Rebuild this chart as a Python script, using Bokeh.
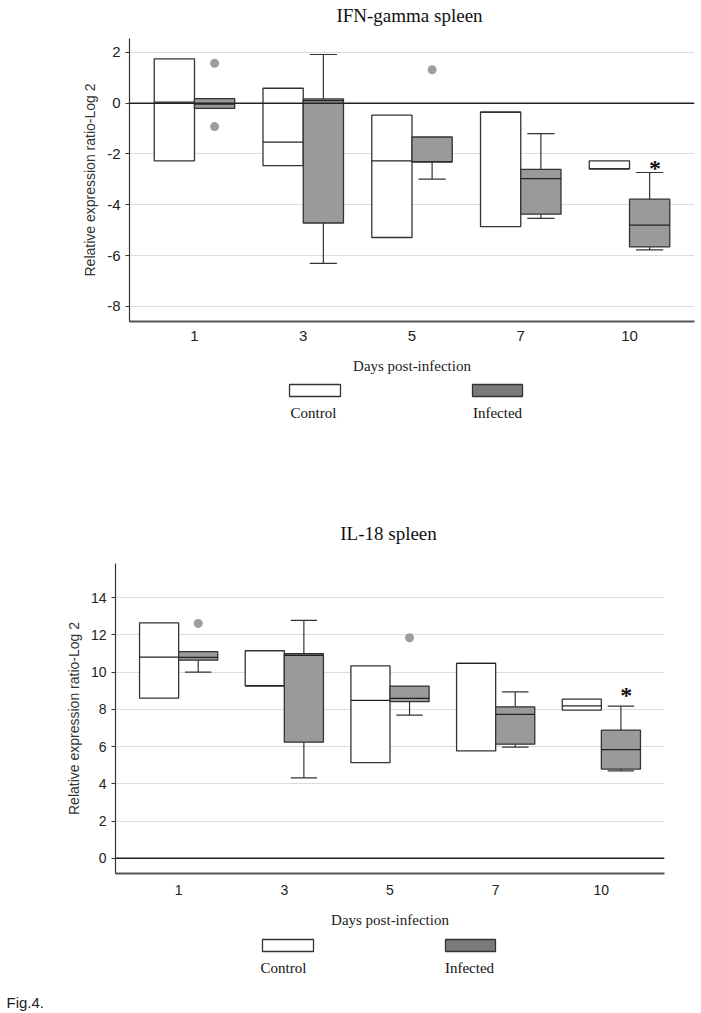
from bokeh.plotting import figure
from bokeh.models import (FactorRange, Range1d, FixedTicker, Span, ColumnDataSource,
                          PrintfTickFormatter)
from bokeh.transform import dodge
from bokeh.embed import file_html
from bokeh.resources import INLINE
from bokeh.core.properties import value

days = ["1", "3", "5", "7", "10"]

# ---- IFN-gamma spleen (Relative expression ratio, Log 2) ----
ifn_ctrl_q1 = [-2.27, -2.46, -5.29, -4.86, -2.59]
ifn_ctrl_med = [0.04, -1.53, -2.27, -0.35, -2.59]
ifn_ctrl_q3 = [1.75, 0.59, -0.47, -0.35, -2.27]
ifn_inf_q1 = [-0.20, -4.72, -2.31, -4.37, -5.66]
ifn_inf_med = [-0.03, 0.10, -2.31, -2.97, -4.80]
ifn_inf_q3 = [0.18, 0.17, -1.33, -2.61, -3.78]
ifn_inf_lo = [None, -6.31, -2.99, -4.54, -5.78]
ifn_inf_hi = [None, 1.92, None, -1.20, -2.73]
ifn_out_day = ["1", "1", "5"]
ifn_out_val = [1.57, -0.92, 1.32]
ifn_sig_day = ["10"]
ifn_sig_val = [-2.37]
ifn_yticks = [-8, -6, -4, -2, 0, 2]

# ---- IL-18 spleen ----
il_ctrl_q1 = [8.60, 9.27, 5.14, 5.77, 7.96]
il_ctrl_med = [10.81, 9.27, 8.48, 10.47, 8.19]
il_ctrl_q3 = [12.65, 11.15, 10.34, 10.47, 8.55]
il_inf_q1 = [10.65, 6.24, 8.42, 6.13, 4.79]
il_inf_med = [10.79, 10.90, 8.59, 7.73, 5.84]
il_inf_q3 = [11.10, 10.99, 9.25, 8.14, 6.88]
il_inf_lo = [10.00, 4.32, 7.69, 5.97, 4.70]
il_inf_hi = [None, 12.78, None, 8.94, 8.17]
il_out_day = ["1", "5"]
il_out_val = [12.62, 11.85]
il_sig_day = ["10"]
il_sig_val = [9.03]
il_yticks = [0, 2, 4, 6, 8, 10, 12, 14]

titles = ["IFN-gamma spleen", "IL-18 spleen"]
series_names = ["Control", "Infected"]
CTRL_FILL = "white"
INF_FILL = "#9a9a9a"
EDGE = "#333333"
BOXW = 0.37
OFF = 0.185
CAP = 0.125

SANS = "Liberation Sans"
SERIF = "Liberation Serif"
PAGE_W = 701


def chart(c_q1, c_med, c_q3, i_q1, i_med, i_q3, i_lo, i_hi, o_day, o_val,
          s_day, s_val, yr, yticks, height, bl, br, bt, bb, tick_size,
          tick_standoff, label_standoff):
    p = figure(width=PAGE_W, height=height, x_range=FactorRange(*days),
               y_range=Range1d(*yr), output_backend="svg", toolbar_location=None,
               min_border_left=bl, min_border_right=br, min_border_top=bt,
               min_border_bottom=bb)
    p.x_range.range_padding = 0.0975
    p.x_range.range_padding_units = "absolute"
    p.outline_line_color = None

    p.xgrid.visible = False
    p.ygrid.ticker = FixedTicker(ticks=yticks)
    p.ygrid.grid_line_color = "#dcdcdc"
    p.ygrid.grid_line_width = 1

    p.yaxis.ticker = FixedTicker(ticks=yticks)
    p.yaxis.formatter = PrintfTickFormatter(format="%d")
    p.yaxis.axis_line_color = "#333333"
    p.yaxis.axis_line_width = 1.2
    p.yaxis.major_tick_line_color = "#333333"
    p.yaxis.major_tick_out = 4
    p.yaxis.major_tick_in = 0
    p.yaxis.minor_tick_line_color = None
    p.yaxis.major_label_text_font = SANS
    p.yaxis.major_label_text_font_size = tick_size
    p.yaxis.major_label_text_color = "#222222"
    p.yaxis.major_label_standoff = 5
    p.yaxis.axis_label = "Relative expression ratio-Log 2"
    p.yaxis.axis_label_text_font = SANS
    p.yaxis.axis_label_text_font_size = "14px"
    p.yaxis.axis_label_text_font_style = "normal"
    p.yaxis.axis_label_text_color = "#333333"
    p.yaxis.axis_label_standoff = 6

    p.xaxis.axis_line_color = "#555555"
    p.xaxis.axis_line_width = 2
    p.xaxis.major_tick_line_color = None
    p.xaxis.major_tick_out = 0
    p.xaxis.minor_tick_line_color = None
    p.xaxis.major_label_text_font = SANS
    p.xaxis.major_label_text_font_size = tick_size
    p.xaxis.major_label_text_color = "#222222"
    p.xaxis.major_label_standoff = tick_standoff
    p.xaxis.axis_label = "Days post-infection"
    p.xaxis.axis_label_text_font = SERIF
    p.xaxis.axis_label_text_font_size = "15px"
    p.xaxis.axis_label_text_font_style = "normal"
    p.xaxis.axis_label_text_color = "#222222"
    p.xaxis.axis_label_standoff = label_standoff

    p.add_layout(Span(location=0, dimension="width", line_color="#222222",
                      line_width=1.4))

    for q1, med, q3, off, fill in [(c_q1, c_med, c_q3, -OFF, CTRL_FILL),
                                    (i_q1, i_med, i_q3, OFF, INF_FILL)]:
        src = ColumnDataSource(dict(day=days, q1=q1, med=med, q3=q3))
        p.vbar(x=dodge("day", off, range=p.x_range), width=BOXW, top="q3",
               bottom="q1", source=src, fill_color=fill, line_color=EDGE,
               line_width=1.3)
        p.segment(x0=dodge("day", off - BOXW / 2, range=p.x_range), y0="med",
                  x1=dodge("day", off + BOXW / 2, range=p.x_range), y1="med",
                  source=src, line_color="#222222", line_width=1.3)

    wd, wfrom, wto = [], [], []
    for d, lo, hi, q1, q3 in zip(days, i_lo, i_hi, i_q1, i_q3):
        if lo is not None:
            wd.append(d); wfrom.append(q1); wto.append(lo)
        if hi is not None:
            wd.append(d); wfrom.append(q3); wto.append(hi)
    wsrc = ColumnDataSource(dict(day=wd, a=wfrom, b=wto))
    p.segment(x0=dodge("day", OFF, range=p.x_range), y0="a",
              x1=dodge("day", OFF, range=p.x_range), y1="b", source=wsrc,
              line_color="#333333", line_width=1.2)
    p.segment(x0=dodge("day", OFF - CAP, range=p.x_range), y0="b",
              x1=dodge("day", OFF + CAP, range=p.x_range), y1="b", source=wsrc,
              line_color="#333333", line_width=1.2)

    osrc = ColumnDataSource(dict(day=o_day, v=o_val))
    p.scatter(x=dodge("day", OFF, range=p.x_range), y="v", source=osrc, size=9,
              fill_color="#9d9d9d", line_color=None)

    ssrc = ColumnDataSource(dict(day=s_day, v=s_val, t=["*"] * len(s_day)))
    p.text(x=dodge("day", OFF + 0.05, range=p.x_range), y="v", text="t",
           source=ssrc, text_font=value(SERIF), text_font_size="24px",
           text_font_style="bold", text_align="center", text_baseline="middle",
           y_offset=5, text_color="#111111")
    return p


def strip(height):
    f = figure(width=PAGE_W, height=height, x_range=Range1d(0, PAGE_W),
               y_range=Range1d(height, 0), x_axis_type=None, y_axis_type=None,
               output_backend="svg", toolbar_location=None, min_border=0)
    f.outline_line_color = None
    f.grid.visible = False
    return f


def add_title(f, text, x, y):
    f.text(x=[x], y=[y], text=[text], text_font=value(SERIF), text_font_size="19px",
           text_align="center", text_baseline="middle", text_color="#111111")


def add_legend(f, sw_left, sw_right, sw_top, sw_bottom, txt_x, txt_y):
    f.quad(left=sw_left, right=sw_right, top=[sw_top] * 2, bottom=[sw_bottom] * 2,
           fill_color=["white", "#7a7a7a"], line_color="#333333", line_width=1.3)
    f.text(x=txt_x, y=[txt_y] * 2, text=series_names, text_font=value(SERIF),
           text_font_size="15px", text_align="center", text_baseline="middle",
           text_color="#111111")


top = strip(30)
add_title(top, titles[0], 409, 15)

p1 = chart(ifn_ctrl_q1, ifn_ctrl_med, ifn_ctrl_q3, ifn_inf_q1,
           ifn_inf_med, ifn_inf_q3, ifn_inf_lo, ifn_inf_hi, ifn_out_day, ifn_out_val,
           ifn_sig_day, ifn_sig_val, (-8.6, 2.55), ifn_yticks,
           350, 129, 7, 8, 59, "15px", 9, 14)

mid = strip(170)
add_legend(mid, [289, 472], [340, 522], 4, 16, [313, 497], 32)
add_title(mid, titles[1], 388, 153)

p2 = chart(il_ctrl_q1, il_ctrl_med, il_ctrl_q3, il_inf_q1,
           il_inf_med, il_inf_q3, il_inf_lo, il_inf_hi, il_out_day, il_out_val,
           il_sig_day, il_sig_val, (-0.82, 15.84), il_yticks,
           383, 115, 37, 13, 60, "14px", 11, 14)

bottom = strip(78)
add_legend(bottom, [262, 445], [313, 495], 6, 18, [283, 469], 34)
bottom.text(x=[6], y=[69], text=["Fig.4."], text_font=value(SANS),
            text_font_size="15px", text_align="left", text_baseline="middle",
            text_color="#222222")

open("out.html", "w").write(file_html([top, p1, mid, p2, bottom], INLINE))
